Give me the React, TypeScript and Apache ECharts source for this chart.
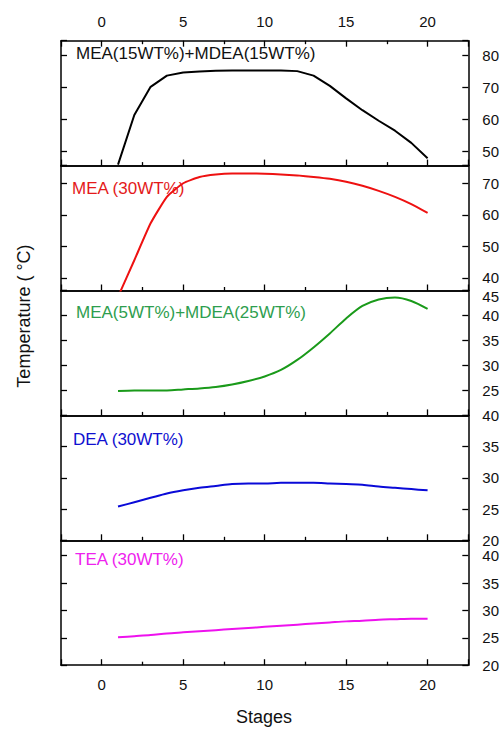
import React, { useEffect, useRef } from 'react';
import * as echarts from 'echarts';

const stages = [1, 2, 3, 4, 5, 6, 7, 8, 9, 10, 11, 12, 13, 14, 15, 16, 17, 18, 19, 20];
const mea15mdea15 = [45.8, 61.3, 70.1, 73.6, 74.6, 74.9, 75.1, 75.2, 75.2, 75.2, 75.2, 75.0, 73.6, 70.4, 66.5, 62.8, 59.5, 56.4, 52.6, 47.8];
const mea30 = [34.0, 45.6, 57.3, 65.7, 70.0, 72.0, 72.8, 73.1, 73.1, 73.0, 72.8, 72.5, 72.0, 71.4, 70.5, 69.2, 67.6, 65.7, 63.4, 60.6];
const mea5mdea25 = [24.9, 25.0, 25.0, 25.0, 25.2, 25.4, 25.7, 26.2, 26.9, 27.8, 29.1, 31.1, 33.6, 36.4, 39.4, 41.9, 43.2, 43.6, 42.9, 41.3];
const dea30 = [25.4, 26.1, 26.8, 27.5, 28.0, 28.4, 28.7, 29.0, 29.1, 29.1, 29.2, 29.2, 29.2, 29.1, 29.0, 28.9, 28.6, 28.4, 28.2, 28.0];
const tea30 = [25.1, 25.3, 25.5, 25.8, 26.0, 26.2, 26.4, 26.6, 26.8, 27.0, 27.2, 27.4, 27.6, 27.8, 28.0, 28.1, 28.3, 28.4, 28.5, 28.5];

const seriesValues = [mea15mdea15, mea30, mea5mdea25, dea30, tea30];
const panelNames = ['MEA(15WT%)+MDEA(15WT%)', 'MEA (30WT%)', 'MEA(5WT%)+MDEA(25WT%)', 'DEA (30WT%)', 'TEA (30WT%)'];
const lineColors = ['#000000', '#ee1111', '#1a9a1a', '#0a0ad8', '#ee11ee'];
const textColors = ['#111111', '#e41a1a', '#2e9e4e', '#1010d0', '#ee22ee'];
const smoothing = [0, 0.15, 0.3, 0.3, 0.3];
const yMins = [45.5, 36, 20, 20, 20];
const yMaxs = [84.5, 75.6, 45, 40, 42.8];
const yLabelSteps = [10, 10, 5, 5, 5];
const xMin = -2.5;
const xMax = 22.5;
const xLabelStep = 5;

const FONT = '"Liberation Sans", Arial, sans-serif';

export default function App() {
  const ref = useRef<HTMLDivElement>(null);
  useEffect(() => {
    if (!ref.current) return;
    const chart = echarts.init(ref.current, undefined, { renderer: 'svg' });
    const left = 61;
    const right = 33.5;
    const top0 = 40.7;
    const h = 124.9;
    const grids: any[] = [];
    const xAxes: any[] = [];
    const yAxes: any[] = [];
    const series: any[] = [];
    const graphics: any[] = [];
    const lineStyle = { color: '#000', width: 1.5 };
    for (let i = 0; i < 5; i++) {
      grids.push({ left, right, top: top0 + i * h, height: h });
      const isLast = i === 4;
      const isFirst = i === 0;
      const xFmt = (v: number) => (Math.abs(v % xLabelStep) < 1e-6 ? String(v) : '');
      xAxes.push({
        type: 'value', gridIndex: i, position: 'bottom', min: xMin, max: xMax, splitNumber: 5,
        axisLine: { show: true, onZero: false, lineStyle },
        axisTick: { show: true, inside: true, length: 6, lineStyle: { color: '#000', width: 1.3 } },
        minorTick: { show: true, splitNumber: 2, length: 3.5, lineStyle: { color: '#000', width: 1.3 } },
        axisLabel: { show: isLast, formatter: xFmt, color: '#111', fontSize: 15, fontFamily: FONT, margin: 12 },
        splitLine: { show: false },
      });
      xAxes.push({
        type: 'value', gridIndex: i, position: 'top', min: xMin, max: xMax, splitNumber: 5,
        axisLine: { show: true, onZero: false, lineStyle },
        axisTick: { show: isFirst, inside: true, length: 6, lineStyle: { color: '#000', width: 1.3 } },
        minorTick: { show: isFirst, splitNumber: 2, length: 3.5, lineStyle: { color: '#000', width: 1.3 } },
        axisLabel: { show: isFirst, formatter: xFmt, color: '#111', fontSize: 15, fontFamily: FONT, margin: 12 },
        splitLine: { show: false },
      });
      const step = yLabelSteps[i];
      const yMin = yMins[i];
      const yMax = yMaxs[i];
      const yFmt = (v: number) => {
        if (Math.abs(v % step) > 1e-6) return '';
        if (i === 2 && v === 20) return '';
        if (i === 2 && v === 45) return '{d|45}';
        return String(v);
      };
      const yBase: any = {
        type: 'value', gridIndex: i, min: yMin, max: yMax,
        axisLine: { show: true, onZero: false, lineStyle },
        axisTick: { show: true, inside: true, length: 6, lineStyle: { color: '#000', width: 1.3 } },
        splitLine: { show: false },
      };
      if (i >= 2) yBase.interval = 5; else yBase.splitNumber = 5;
      yAxes.push({
        ...yBase, position: 'right',
        axisLabel: {
          show: true, formatter: yFmt, color: '#111', fontSize: 15, fontFamily: FONT, margin: 14,
          rich: { d: { padding: [12, 0, 0, 0], fontSize: 15, fontFamily: FONT, color: '#111' } },
        },
      });
      yAxes.push({ ...yBase, position: 'left', axisLabel: { show: false } });
      series.push({
        type: 'line', xAxisIndex: 2 * i, yAxisIndex: 2 * i,
        data: stages.map((s, j) => [s, seriesValues[i][j]]),
        showSymbol: false, smooth: smoothing[i] > 0 ? smoothing[i] : false, clip: true,
        lineStyle: { color: lineColors[i], width: 2 },
        itemStyle: { color: lineColors[i] },
      });
      const labelY = [53.5, 188, 312.3, 439.3, 559.3][i];
      const labelX = [76, 72, 76, 73, 75][i];
      graphics.push({
        type: 'text', x: labelX, y: labelY,
        style: {
          text: panelNames[i], fill: textColors[i], font: `17px ${FONT}`,
          textAlign: 'left', textVerticalAlign: 'middle', align: 'left', verticalAlign: 'middle',
        },
      });
    }
    graphics.push({
      type: 'text', x: 24, y: 316, rotation: Math.PI / 2,
      style: {
        text: 'Temperature ( °C)', fill: '#111', font: `18px ${FONT}`,
        textAlign: 'center', textVerticalAlign: 'middle', align: 'center', verticalAlign: 'middle',
      },
    });
    graphics.push({
      type: 'text', x: 264, y: 717,
      style: {
        text: 'Stages', fill: '#111', font: `18px ${FONT}`,
        textAlign: 'center', textVerticalAlign: 'middle', align: 'center', verticalAlign: 'middle',
      },
    });
    chart.setOption({
      animation: false,
      backgroundColor: '#ffffff',
      grid: grids,
      xAxis: xAxes,
      yAxis: yAxes,
      series,
      graphic: graphics,
    });
    return () => chart.dispose();
  }, []);
  return <div ref={ref} style={{ position: 'fixed', left: 0, top: 0, width: 502, height: 730 }} />;
}
